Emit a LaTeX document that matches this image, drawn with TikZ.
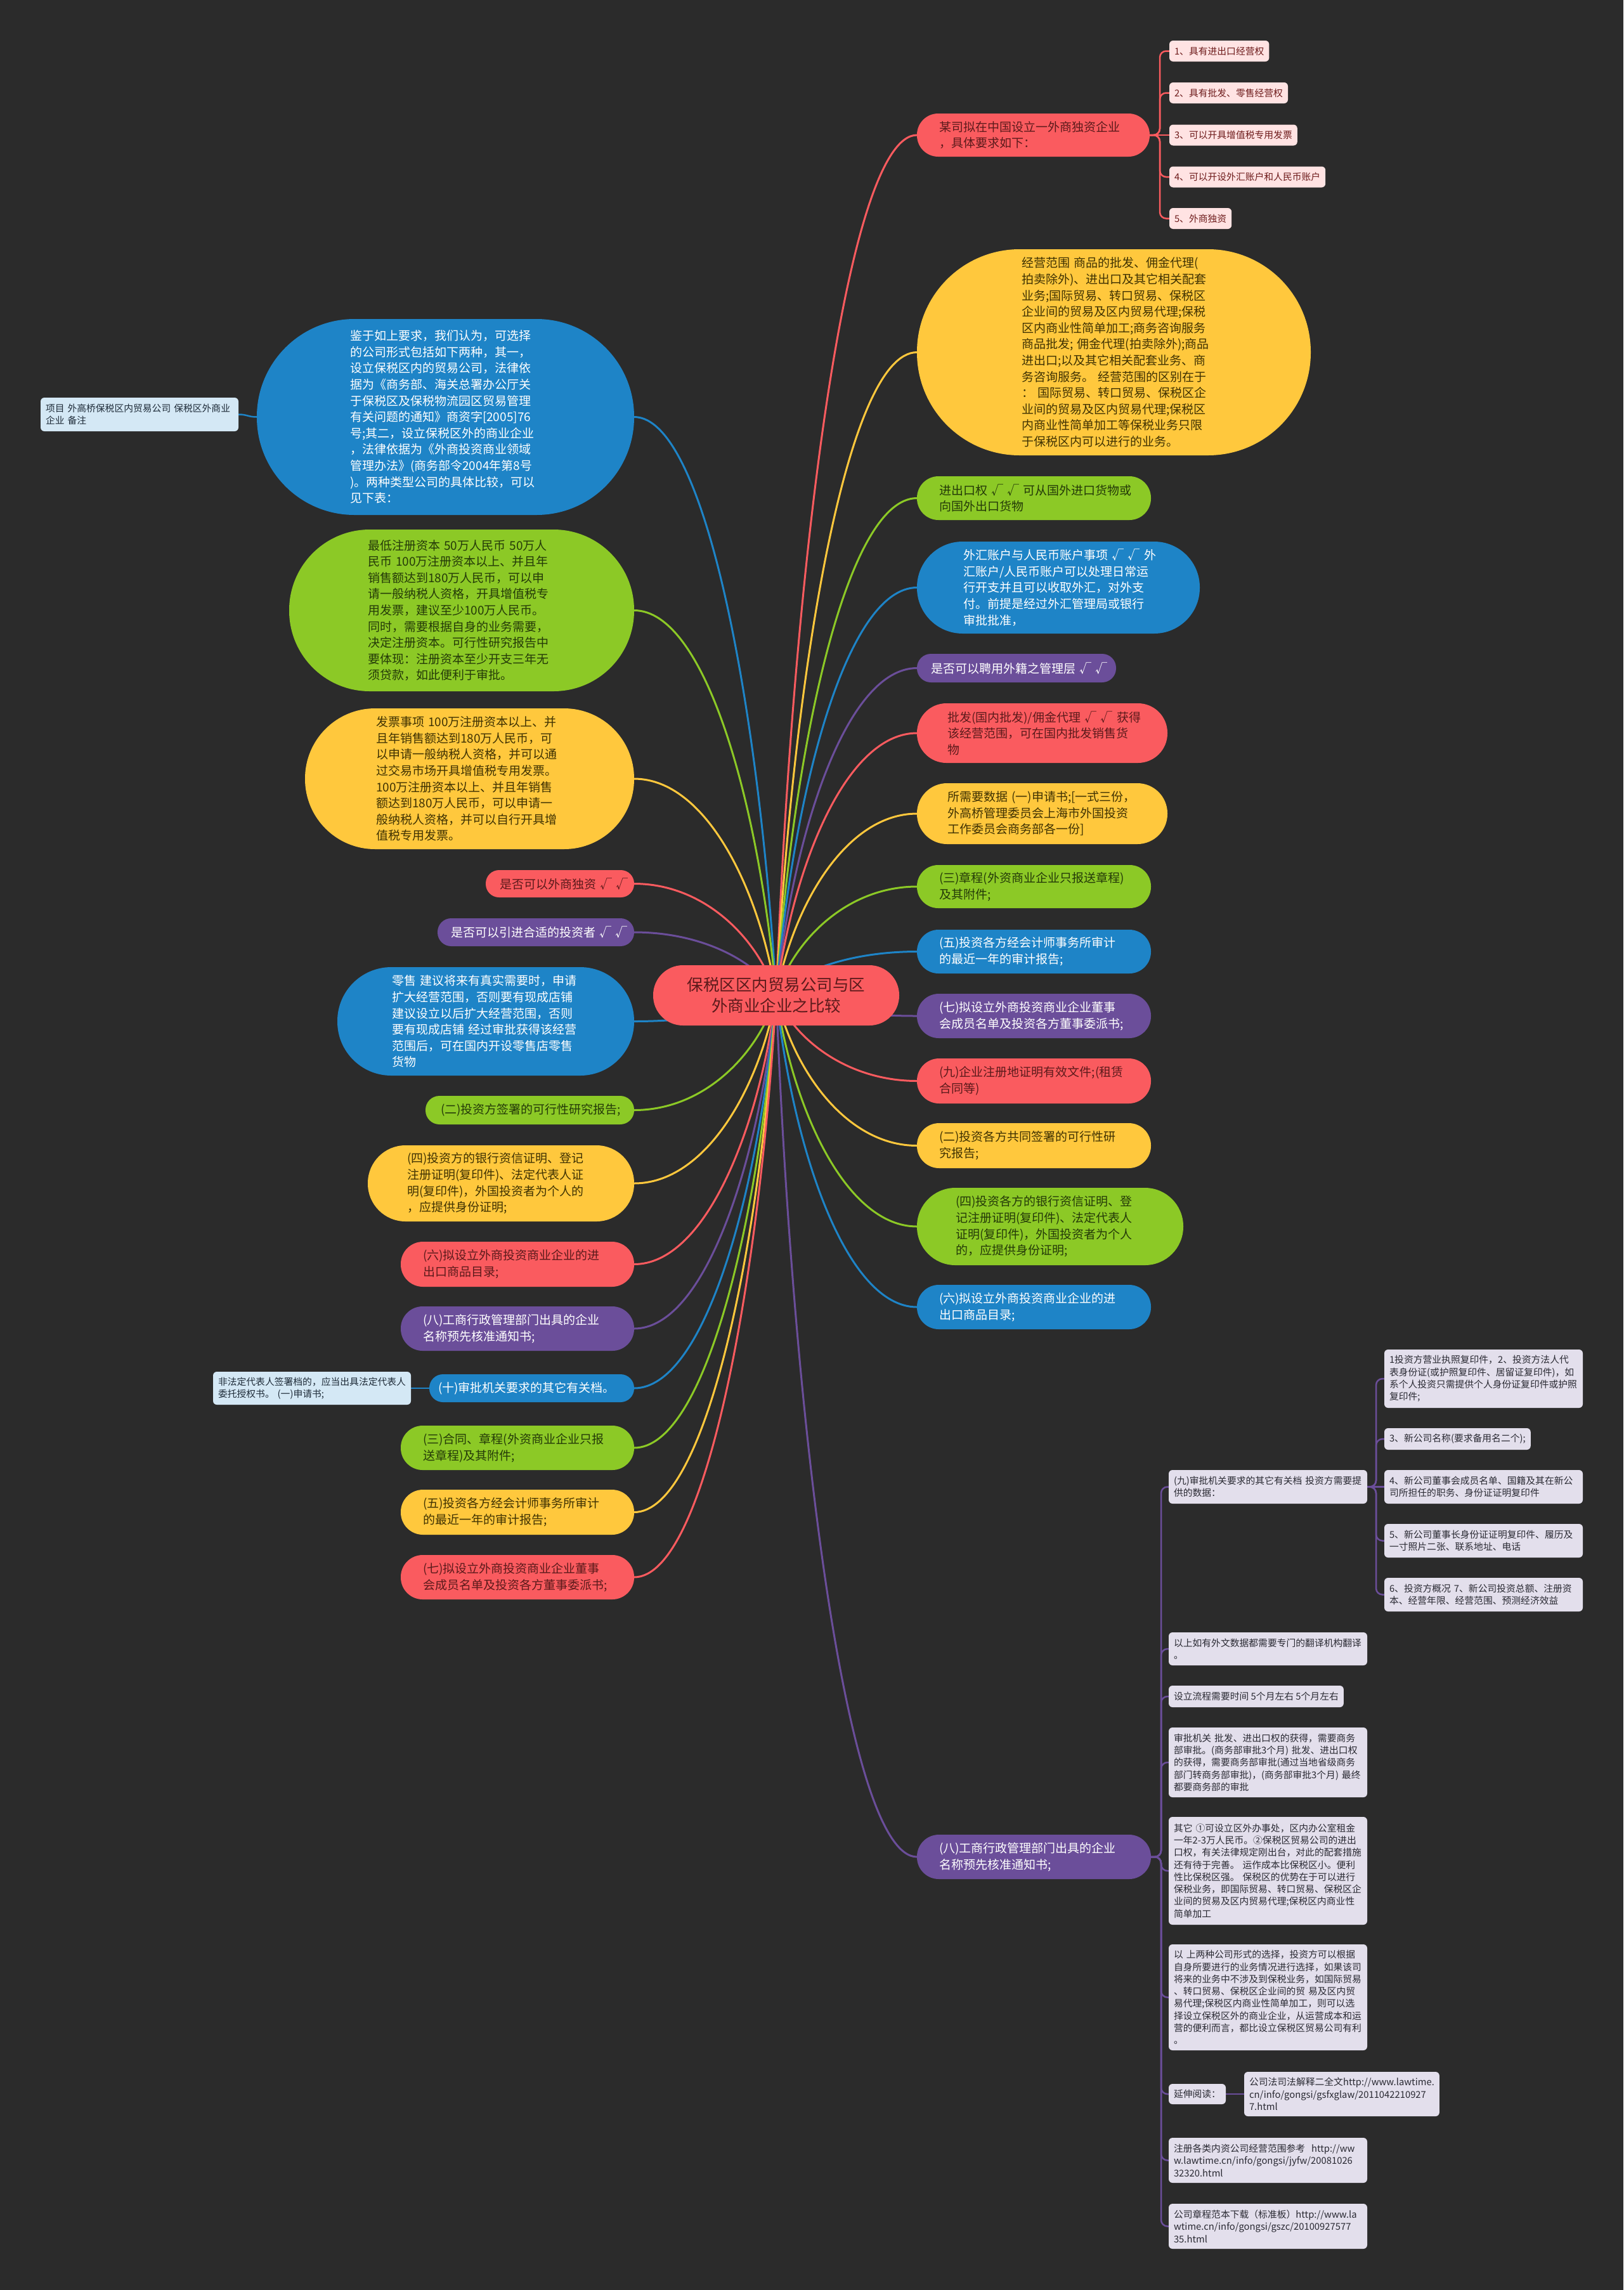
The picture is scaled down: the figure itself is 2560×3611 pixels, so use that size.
\documentclass[tikz,border=0pt]{standalone}
\usepackage{fontspec}
\setmainfont{Noto Sans CJK SC}
\usetikzlibrary{calc}
\pgfdeclarelayer{edges}
\pgfsetlayers{edges,main}
\definecolor{bgc}{HTML}{2B2B2B}
\definecolor{cred}{HTML}{FA5B5F}
\definecolor{cyel}{HTML}{FFC83D}
\definecolor{cgrn}{HTML}{8CC926}
\definecolor{cblu}{HTML}{1E84C7}
\definecolor{cpur}{HTML}{6B4E9A}
\definecolor{tred}{HTML}{5C1A1B}
\definecolor{tyel}{HTML}{3F3202}
\definecolor{tgrn}{HTML}{243A08}
\definecolor{cpink}{HTML}{FFE3E3}
\definecolor{tpink}{HTML}{6E1C1C}
\definecolor{clb}{HTML}{D4E8F5}
\definecolor{tlb}{HTML}{1E2B38}
\definecolor{clav}{HTML}{E3DFEC}
\definecolor{tlav}{HTML}{2A2A33}
\tikzset{
  base/.style={align=left, inner ysep=0pt, outer sep=0pt},
  big/.style={base, font=\fontsize{19pt}{25.6pt}\selectfont},
  small/.style={base, font=\fontsize{14.8pt}{19.3pt}\selectfont, rounded corners=6pt},
  geo/.style n args={4}{text width=#1pt, minimum height=#2pt, rounded corners=#3pt, inner xsep=#4pt},
  sgeo/.style n args={2}{text width=#1pt, minimum height=#2pt, inner xsep=8pt},
  fr/.style={big, fill=cred, text=tred},
  fy/.style={big, fill=cyel, text=tyel},
  fg/.style={big, fill=cgrn, text=tgrn},
  fb/.style={big, fill=cblu, text=white},
  fp/.style={big, fill=cpur, text=white},
  pk/.style={small, fill=cpink, text=tpink, inner xsep=8pt, minimum height=33pt, anchor=west},
  lb/.style={small, fill=clb, text=tlb},
  lav/.style={small, fill=clav, text=tlav},
  ln/.style={line width=3pt},
  sln/.style={line width=2.5pt, rounded corners=10pt},
}
\newcommand\mainedge[2]{\draw[ln,#1] let \p1=(root.center), \p2=(#2) in (root.center) .. controls ({\x1+0.12*(\x2-\x1)},{\y1+0.5*(\y2-\y1)}) and ({\x1+0.5*(\x2-\x1)},{\y2}) .. (#2);}
\begin{document}
\begin{tikzpicture}[x=1pt,y=-1pt]
\useasboundingbox (0,0) rectangle (2560,3611);

% root
\node[base, align=center, fill=cred, text=tred, font=\fontsize{25.5pt}{33pt}\selectfont, minimum width=388pt, minimum height=95pt, rounded corners=47pt, inner xsep=0pt] (root) at (1224,1569.5) {保税区区内贸易公司与区\\外商业企业之比较};

% right side
\node[fr, geo={297}{68}{33.5}{35}] (R1) at (1629.5,213) {某司拟在中国设立一外商独资企业\\，具体要求如下：};
\node[pk] (c1) at (1844,80.5) {1、具有进出口经营权};
\node[pk] (c2) at (1844,146.5) {2、具有批发、零售经营权};
\node[pk] (c3) at (1844,213) {3、可以开具增值税专用发票};
\node[pk] (c4) at (1844,279) {4、可以开设外汇账户和人民币账户};
\node[pk] (c5) at (1844,344.5) {5、外商独资};

\node[fy, geo={291}{325}{162}{165}] (R2) at (1756.5,555.5) {经营范围~商品的批发、佣金代理(\\拍卖除外)、进出口及其它相关配套\\业务;国际贸易、转口贸易、保税区\\企业间的贸易及区内贸易代理;保税\\区内商业性简单加工;商务咨询服务\\商品批发;~佣金代理(拍卖除外);商品\\进出口;以及其它相关配套业务、商\\务咨询服务。~经营范围的区别在于\\：~国际贸易、转口贸易、保税区企\\业间的贸易及区内贸易代理;保税区\\内商业性简单加工等保税业务只限\\于保税区内可以进行的业务。};
\node[fg, geo={299}{69}{34}{35}] (R3) at (1630.5,785.5) {进出口权~√~√~可从国外进口货物或\\向国外出口货物};
\node[fb, geo={300}{145}{72}{73}] (R4) at (1669,926.5) {外汇账户与人民币账户事项~√~√~外\\汇账户/人民币账户可以处理日常运\\行开支并且可以收取外汇，对外支\\付。前提是经过外汇管理局或银行\\审批批准，};
\node[fp, geo={270}{45}{22}{22}] (R5) at (1603,1053.5) {是否可以聘用外籍之管理层~√~√};
\node[fr, geo={299}{94}{46.5}{48}] (R6) at (1643.5,1156) {批发(国内批发)/佣金代理~√~√~获得\\该经营范围，可在国内批发销售货\\物};
\node[fy, geo={299}{96}{47.5}{48}] (R7) at (1643.5,1283) {所需要数据~(一)申请书;[一式三份，\\外高桥管理委员会上海市外国投资\\工作委员会商务部各一份]};
\node[fg, geo={299}{68}{33.5}{35}] (R8) at (1630.5,1398) {(三)章程(外资商业企业只报送章程)\\及其附件;};
\node[fb, geo={299}{69}{34}{35}] (R9) at (1630.5,1500.5) {(五)投资各方经会计师事务所审计\\的最近一年的审计报告;};
\node[fp, geo={299}{70}{34.5}{35}] (R10) at (1630.5,1602) {(七)拟设立外商投资商业企业董事\\会成员名单及投资各方董事委派书;};
\node[fr, geo={299}{71}{35}{35}] (R11) at (1630.5,1704.5) {(九)企业注册地证明有效文件;(租赁\\合同等)};
\node[fy, geo={299}{71}{35}{35}] (R12) at (1630.5,1806.5) {(二)投资各方共同签署的可行性研\\究报告;};
\node[fg, geo={298}{122}{60.5}{61}] (R13) at (1656,1934) {(四)投资各方的银行资信证明、登\\记注册证明(复印件)、法定代表人\\证明(复印件)，外国投资者为个人\\的，应提供身份证明;};
\node[fb, geo={299}{70}{34.5}{35}] (R14) at (1630.5,2061) {(六)拟设立外商投资商业企业的进\\出口商品目录;};
\node[fp, geo={299}{70}{34.5}{35}] (R15) at (1630.5,2928) {(八)工商行政管理部门出具的企业\\名称预先核准通知书;};

% R15 subtree
\node[lav, sgeo={297}{53}] (K1) at (1999.5,2344.5) {(九)审批机关要求的其它有关档~投资方需要提\\供的数据：};
\node[lav, sgeo={297}{92}] (g1) at (2339.5,2174) {1投资方营业执照复印件，2、投资方法人代\\表身份证(或护照复印件、居留证复印件)，如\\系个人投资只需提供个人身份证复印件或护照\\复印件;};
\node[lav, inner xsep=8pt, minimum height=34pt, anchor=west] (g2) at (2183,2269) {3、新公司名称(要求备用名二个);};
\node[lav, sgeo={297}{53}] (g3) at (2339.5,2344.5) {4、新公司董事会成员名单、国籍及其在新公\\司所担任的职务、身份证证明复印件};
\node[lav, sgeo={297}{53}] (g4) at (2339.5,2429.5) {5、新公司董事长身份证证明复印件、履历及\\一寸照片二张、联系地址、电话};
\node[lav, sgeo={297}{53}] (g5) at (2339.5,2514.5) {6、投资方概况~7、新公司投资总额、注册资\\本、经营年限、经营范围、预测经济效益};
\node[lav, sgeo={297}{52}] (K2) at (1999.5,2600) {以上如有外文数据都需要专门的翻译机构翻译\\。};
\node[lav, inner xsep=8pt, minimum height=34pt, anchor=west] (K3) at (1843,2675) {设立流程需要时间~5个月左右~5个月左右};
\node[lav, sgeo={297}{110}] (K4) at (1999.5,2779) {审批机关~批发、进出口权的获得，需要商务\\部审批。(商务部审批3个月)~批发、进出口权\\的获得，需要商务部审批(通过当地省级商务\\部门转商务部审批)，(商务部审批3个月)~最终\\都要商务部的审批};
\node[lav, sgeo={297}{170}] (K5) at (1999.5,2950) {其它~①可设立区外办事处，区内办公室租金\\一年2-3万人民币。②保税区贸易公司的进出\\口权，有关法律规定刚出台，对此的配套措施\\还有待于完善。~运作成本比保税区小。便利\\性比保税区强。~保税区的优势在于可以进行\\保税业务，即国际贸易、转口贸易、保税区企\\业间的贸易及区内贸易代理;保税区内商业性\\简单加工};
\node[lav, sgeo={297}{167}] (K6) at (1999.5,3149.5) {以~上两种公司形式的选择，投资方可以根据\\自身所要进行的业务情况进行选择，如果该司\\将来的业务中不涉及到保税业务，如国际贸易\\、转口贸易、保税区企业间的贸~易及区内贸\\易代理;保税区内商业性简单加工，则可以选\\择设立保税区外的商业企业，从运营成本和运\\营的便利而言，都比设立保税区贸易公司有利\\。};
\node[lav, inner xsep=8pt, minimum height=32pt, anchor=west] (K7) at (1843,3302) {延伸阅读：};
\node[lav, inner xsep=8pt, minimum height=70pt, anchor=west] (K7c) at (1962,3302) {公司法司法解释二全文http://www.lawtime.\\cn/info/gongsi/gsfxglaw/2011042210927\\7.html};
\node[lav, sgeo={297}{71}] (K8) at (1999.5,3406.5) {注册各类内资公司经营范围参考~~http://ww\\w.lawtime.cn/info/gongsi/jyfw/20081026\\32320.html};
\node[lav, sgeo={297}{71}] (K9) at (1999.5,3510.5) {公司章程范本下载（标准板）http://www.la\\wtime.cn/info/gongsi/gszc/20100927577\\35.html};

% left side
\node[fb, geo={301}{309}{154}{147}] (L1) at (702.5,657.5) {鉴于如上要求，我们认为，可选择\\的公司形式包括如下两种，其一，\\设立保税区内的贸易公司，法律依\\据为《商务部、海关总署办公厅关\\于保税区及保税物流园区贸易管理\\有关问题的通知》商资字[2005]76\\号;其二，设立保税区外的商业企业\\，法律依据为《外商投资商业领域\\管理办法》(商务部令2004年第8号\\)。两种类型公司的具体比较，可以\\见下表：};
\node[lb, sgeo={296}{53}] (L1c) at (220,653.5) {项目~外高桥保税区内贸易公司~保税区外商业\\企业~备注};
\node[fg, geo={296}{255}{127}{124}] (L2) at (728,962.5) {最低注册资本~50万人民币~50万人\\民币~100万注册资本以上、并且年\\销售额达到180万人民币，可以申\\请一般纳税人资格，开具增值税专\\用发票，建议至少100万人民币。\\同时，需要根据自身的业务需要，\\决定注册资本。可行性研究报告中\\要体现：注册资本至少开支三年无\\须贷款，如此便利于审批。};
\node[fy, geo={295}{222}{110.5}{112}] (L3) at (740.5,1228) {发票事项~100万注册资本以上、并\\且年销售额达到180万人民币，可\\以申请一般纳税人资格，并可以通\\过交易市场开具增值税专用发票。\\100万注册资本以上、并且年销售\\额达到180万人民币，可以申请一\\般纳税人资格，并可以自行开具增\\值税专用发票。};
\node[fr, geo={190}{43}{21}{22}] (L4) at (883,1393.5) {是否可以外商独资~√~√};
\node[fp, geo={268}{44}{21.5}{21}] (L5) at (845,1470) {是否可以引进合适的投资者~√~√};
\node[fb, geo={296}{171}{85}{86}] (L6) at (766,1610.5) {零售~建议将来有真实需要时，申请\\扩大经营范围，否则要有现成店铺\\建议设立以后扩大经营范围，否则\\要有现成店铺~经过审批获得该经营\\范围后，可在国内开设零售店零售\\货物};
\node[fg, geo={281}{45}{22}{24}] (L7) at (835.5,1750.5) {(二)投资方签署的可行性研究报告;};
\node[fy, geo={296}{120}{59.5}{62}] (L8) at (790,1866) {(四)投资方的银行资信证明、登记\\注册证明(复印件)、法定代表人证\\明(复印件)，外国投资者为个人的\\，应提供身份证明;};
\node[fr, geo={298}{71}{35}{35}] (L9) at (816,1993.5) {(六)拟设立外商投资商业企业的进\\出口商品目录;};
\node[fp, geo={298}{70}{34.5}{35}] (L10) at (816,2095) {(八)工商行政管理部门出具的企业\\名称预先核准通知书;};
\node[fb, geo={295}{44}{21.5}{14}] (L11) at (838.5,2189) {(十)审批机关要求的其它有关档。};
\node[lb, sgeo={296}{52}] (L11c) at (492,2189) {非法定代表人签署档的，应当出具法定代表人\\委托授权书。~(一)申请书;};
\node[fg, geo={298}{70}{34.5}{35}] (L12) at (816,2283) {(三)合同、章程(外资商业企业只报\\送章程)及其附件;};
\node[fy, geo={298}{71}{35}{35}] (L13) at (816,2384.5) {(五)投资各方经会计师事务所审计\\的最近一年的审计报告;};
\node[fr, geo={298}{70}{34.5}{35}] (L14) at (816,2487) {(七)拟设立外商投资商业企业董事\\会成员名单及投资各方董事委派书;};

\begin{pgfonlayer}{edges}
\fill[bgc] (0,0) rectangle (2560,3611);
% main connectors, right
\mainedge{cred}{R1.west}
\mainedge{cyel}{R2.west}
\mainedge{cgrn}{R3.west}
\mainedge{cblu}{R4.west}
\mainedge{cpur}{R5.west}
\mainedge{cred}{R6.west}
\mainedge{cyel}{R7.west}
\mainedge{cgrn}{R8.west}
\mainedge{cblu}{R9.west}
\mainedge{cpur}{R10.west}
\mainedge{cred}{R11.west}
\mainedge{cyel}{R12.west}
\mainedge{cgrn}{R13.west}
\mainedge{cblu}{R14.west}
\mainedge{cpur}{R15.west}
% main connectors, left
\mainedge{cblu}{L1.east}
\mainedge{cgrn}{L2.east}
\mainedge{cyel}{L3.east}
\mainedge{cred}{L4.east}
\mainedge{cpur}{L5.east}
\mainedge{cblu}{L6.east}
\mainedge{cgrn}{L7.east}
\mainedge{cyel}{L8.east}
\mainedge{cred}{L9.east}
\mainedge{cpur}{L10.east}
\mainedge{cblu}{L11.east}
\mainedge{cgrn}{L12.east}
\mainedge{cyel}{L13.east}
\mainedge{cred}{L14.east}
% R1 children
\draw[sln,cred] (R1.east) -- ++(16,0) |- (c1.west);
\draw[sln,cred] (R1.east) -- ++(16,0) |- (c2.west);
\draw[sln,cred] (R1.east) -- (c3.west);
\draw[sln,cred] (R1.east) -- ++(16,0) |- (c4.west);
\draw[sln,cred] (R1.east) -- ++(16,0) |- (c5.west);
% left small children
\draw[sln,cblu] (L1.west) .. controls +(-14,0) and +(14,0) .. (L1c.east);
\draw[sln,cblu] (L11.west) -- (L11c.east);
% R15 subtree
\draw[sln,cpur] (R15.east) -- ++(16,0) |- (K1.west);
\draw[sln,cpur] (R15.east) -- ++(16,0) |- (K2.west);
\draw[sln,cpur] (R15.east) -- ++(16,0) |- (K3.west);
\draw[sln,cpur] (R15.east) -- ++(16,0) |- (K4.west);
\draw[sln,cpur] (R15.east) -- ++(16,0) |- (K5.west);
\draw[sln,cpur] (R15.east) -- ++(16,0) |- (K6.west);
\draw[sln,cpur] (R15.east) -- ++(16,0) |- (K7.west);
\draw[sln,cpur] (R15.east) -- ++(16,0) |- (K8.west);
\draw[sln,cpur] (R15.east) -- ++(16,0) |- (K9.west);
\draw[sln,cpur] (K1.east) -- ++(14,0) |- (g1.west);
\draw[sln,cpur] (K1.east) -- ++(14,0) |- (g2.west);
\draw[sln,cpur] (K1.east) -- (g3.west);
\draw[sln,cpur] (K1.east) -- ++(14,0) |- (g4.west);
\draw[sln,cpur] (K1.east) -- ++(14,0) |- (g5.west);
\draw[sln,cpur] (K7.east) -- (K7c.west);
\end{pgfonlayer}
\end{tikzpicture}
\end{document}
